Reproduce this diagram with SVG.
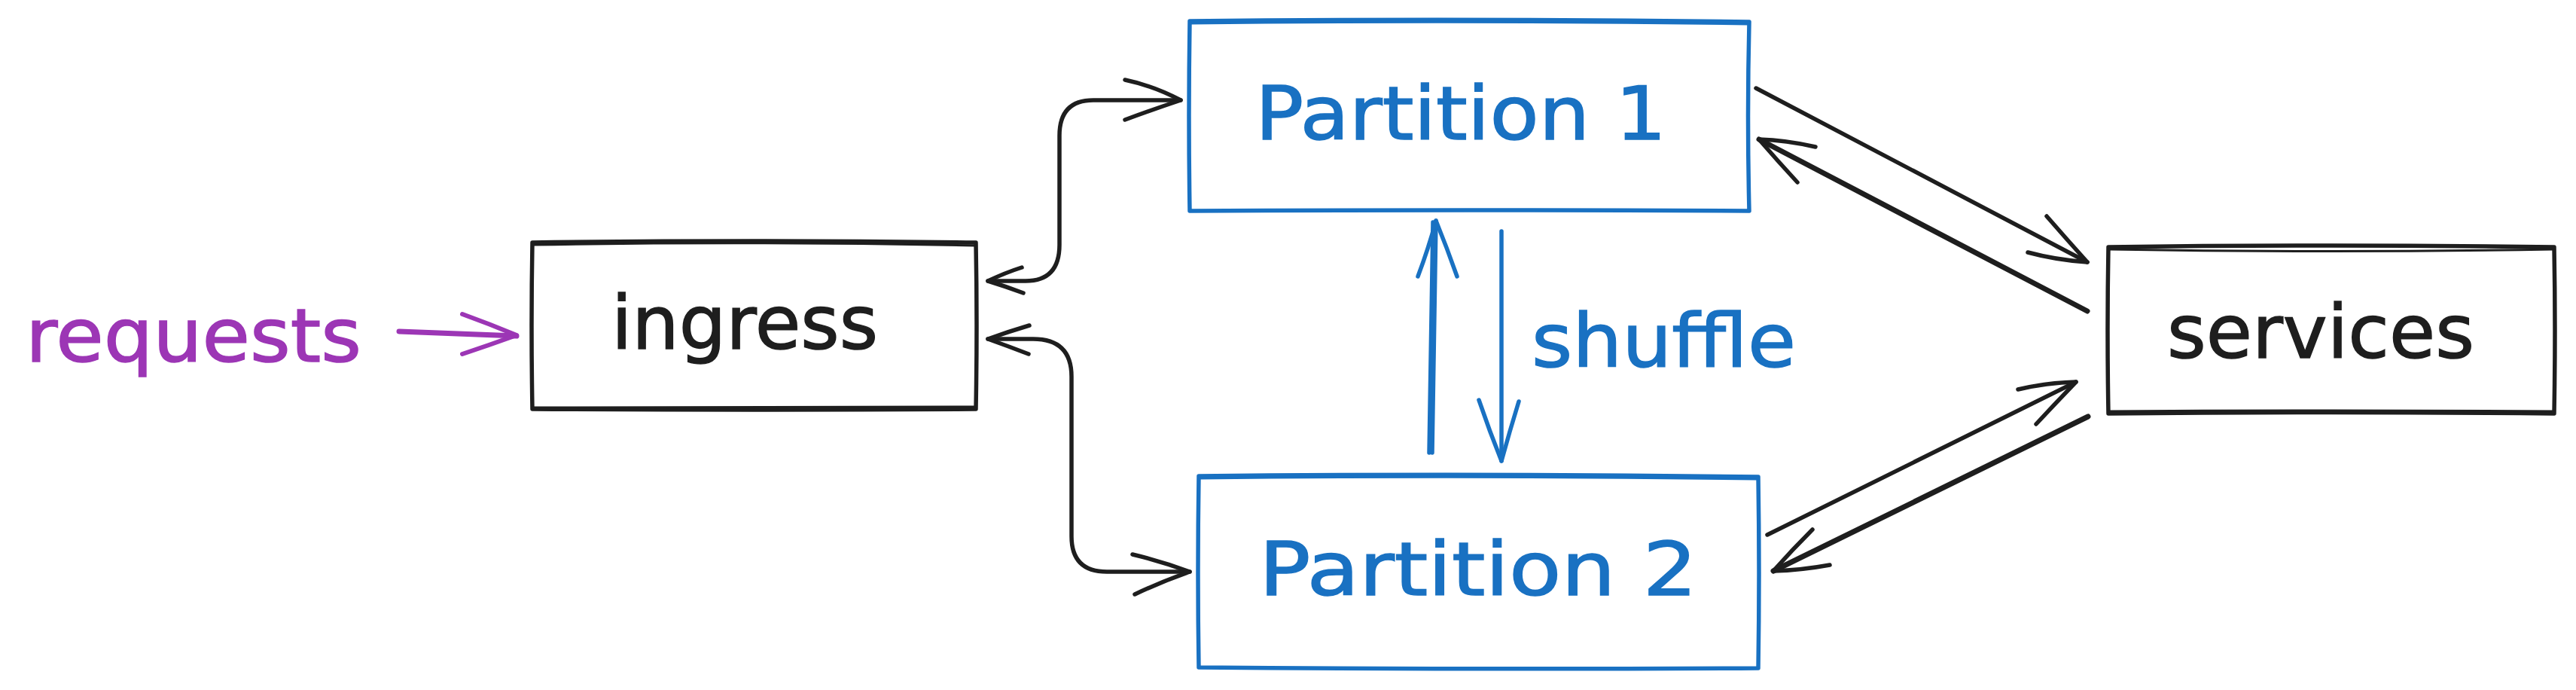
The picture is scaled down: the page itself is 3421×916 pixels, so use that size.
<svg xmlns="http://www.w3.org/2000/svg" width="3421" height="916" viewBox="0 0 3421 916">
<style>
  .bk{fill:none;stroke:#1e1e1e;stroke-linecap:round;stroke-linejoin:round}
  .bl{fill:none;stroke:#1971c2;stroke-linecap:round;stroke-linejoin:round}
  .pu{fill:none;stroke:#9c36b5;stroke-linecap:round;stroke-linejoin:round}
  .box{stroke-width:5.5}
  .box2{stroke-width:3}
  .ln{stroke-width:5.5}
  .t{font-family:"DejaVu Sans","Liberation Sans",sans-serif;font-size:98px}
</style>
<rect width="3421" height="916" fill="#ffffff"/>

<g id="requests">
  <text class="t" x="34" y="480" textLength="446" lengthAdjust="spacingAndGlyphs" fill="#9c36b5" stroke="#9c36b5" stroke-width="1.5">requests</text>
</g>

<g id="ingress">
  <path class="bk box" d="M707,322 Q1000,318 1296,322 Q1298,432 1296,543 Q1000,545 707,543 Q705,432 707,322 Z" fill="#ffffff"/>
  <path class="bk box2" d="M709,325 Q1000,320 1294,326 M1294,540 Q1000,541 709,541"/>
  <text class="t" x="812" y="463" textLength="354" lengthAdjust="spacingAndGlyphs" fill="#1e1e1e" stroke="#1e1e1e" stroke-width="1.5">ingress</text>
</g>

<g id="partition1">
  <path class="bl box" d="M1580,28 Q1950,24 2323,29 Q2320,155 2323,280 Q1950,278 1580,280 Q1578,155 1580,28 Z" fill="#ffffff"/>
  <path class="bl box2" d="M1582,31 Q1950,27 2321,32"/>
  <text class="t" x="1667" y="185" textLength="546" lengthAdjust="spacingAndGlyphs" fill="#1971c2" stroke="#1971c2" stroke-width="1.5">Partition 1</text>
</g>

<g id="partition2">
  <path class="bl box" d="M1592,632 Q1960,628 2335,633 Q2337,760 2335,887 Q1960,889 1592,886 Q1590,760 1592,632 Z" fill="#ffffff"/>
  <path class="bl box2" d="M1594,635 Q1960,631 2333,636"/>
  <text class="t" x="1672" y="790" textLength="582" lengthAdjust="spacingAndGlyphs" fill="#1971c2" stroke="#1971c2" stroke-width="1.5">Partition 2</text>
</g>

<g id="services">
  <path class="bk box" d="M2800,328 Q3096,324 3392,328 Q3394,438 3392,549 Q3096,546 2800,549 Q2798,438 2800,328 Z" fill="#ffffff"/>
  <path class="bk box2" d="M2802,331 Q3096,336 3390,331 M3390,546 Q3096,544 2802,546"/>
  <text class="t" x="2878" y="475" textLength="408" lengthAdjust="spacingAndGlyphs" fill="#1e1e1e" stroke="#1e1e1e" stroke-width="1.5">services</text>
</g>

<g id="shuffle-label">
  <text class="t" x="2034" y="487" textLength="351" lengthAdjust="spacingAndGlyphs" fill="#1971c2" stroke="#1971c2" stroke-width="1.5">shuffle</text>
</g>

<g id="connectors">
  <!-- requests -> ingress -->
  <path class="pu" stroke-width="7" d="M530,440 L686,446"/>
  <path class="pu" stroke-width="6" d="M614,417 Q650,430 686,445 Q650,458 614,470"/>

  <!-- ingress <-> Partition 1 -->
  <path class="bk ln" d="M1312,373 L1362,373 Q1407,373 1407,325 L1407,180 Q1407,133 1452,133 L1568,133"/>
  <path class="bk ln" d="M1357,355 Q1335,362 1312,373 Q1335,380 1359,389"/>
  <path class="bk ln" d="M1494,106 Q1532,114 1568,133 Q1532,145 1494,159"/>

  <!-- ingress <-> Partition 2 -->
  <path class="bk ln" d="M1312,450 L1372,450 Q1423,450 1423,500 L1423,712 Q1423,759 1470,759 L1580,759"/>
  <path class="bk ln" d="M1367,432 Q1340,440 1312,450 Q1340,460 1366,470"/>
  <path class="bk ln" d="M1504,736 Q1542,745 1580,759 Q1543,772 1507,789"/>

  <!-- Partition 1 -> services -->
  <path class="bk ln" d="M2332,117 L2772,348"/>
  <path class="bk ln" d="M2718,287 Q2745,318 2772,348 Q2730,345 2693,335"/>

  <!-- services -> Partition 1 -->
  <path class="bk" stroke-width="7" d="M2772,413 L2336,185"/>
  <path class="bk ln" d="M2411,195 Q2372,186 2336,185 Q2362,215 2387,242"/>

  <!-- Partition 2 -> services -->
  <path class="bk ln" d="M2347,710 L2757,507"/>
  <path class="bk ln" d="M2680,517 Q2718,508 2757,507 Q2730,535 2704,563"/>

  <!-- services -> Partition 2 -->
  <path class="bk" stroke-width="7" d="M2773,553 L2355,758"/>
  <path class="bk ln" d="M2407,703 Q2380,730 2355,758 Q2392,757 2430,750"/>

  <!-- shuffle up -->
  <path class="bl ln" d="M1902,601 L1907,293 M1898,601 L1903,295"/>
  <path class="bl ln" d="M1883,367 Q1897,330 1907,293 Q1922,330 1935,367"/>

  <!-- shuffle down -->
  <path class="bl ln" d="M1994,307 L1994,612"/>
  <path class="bl ln" d="M1964,531 Q1978,572 1994,612 Q2005,572 2017,533"/>
</g>
</svg>
